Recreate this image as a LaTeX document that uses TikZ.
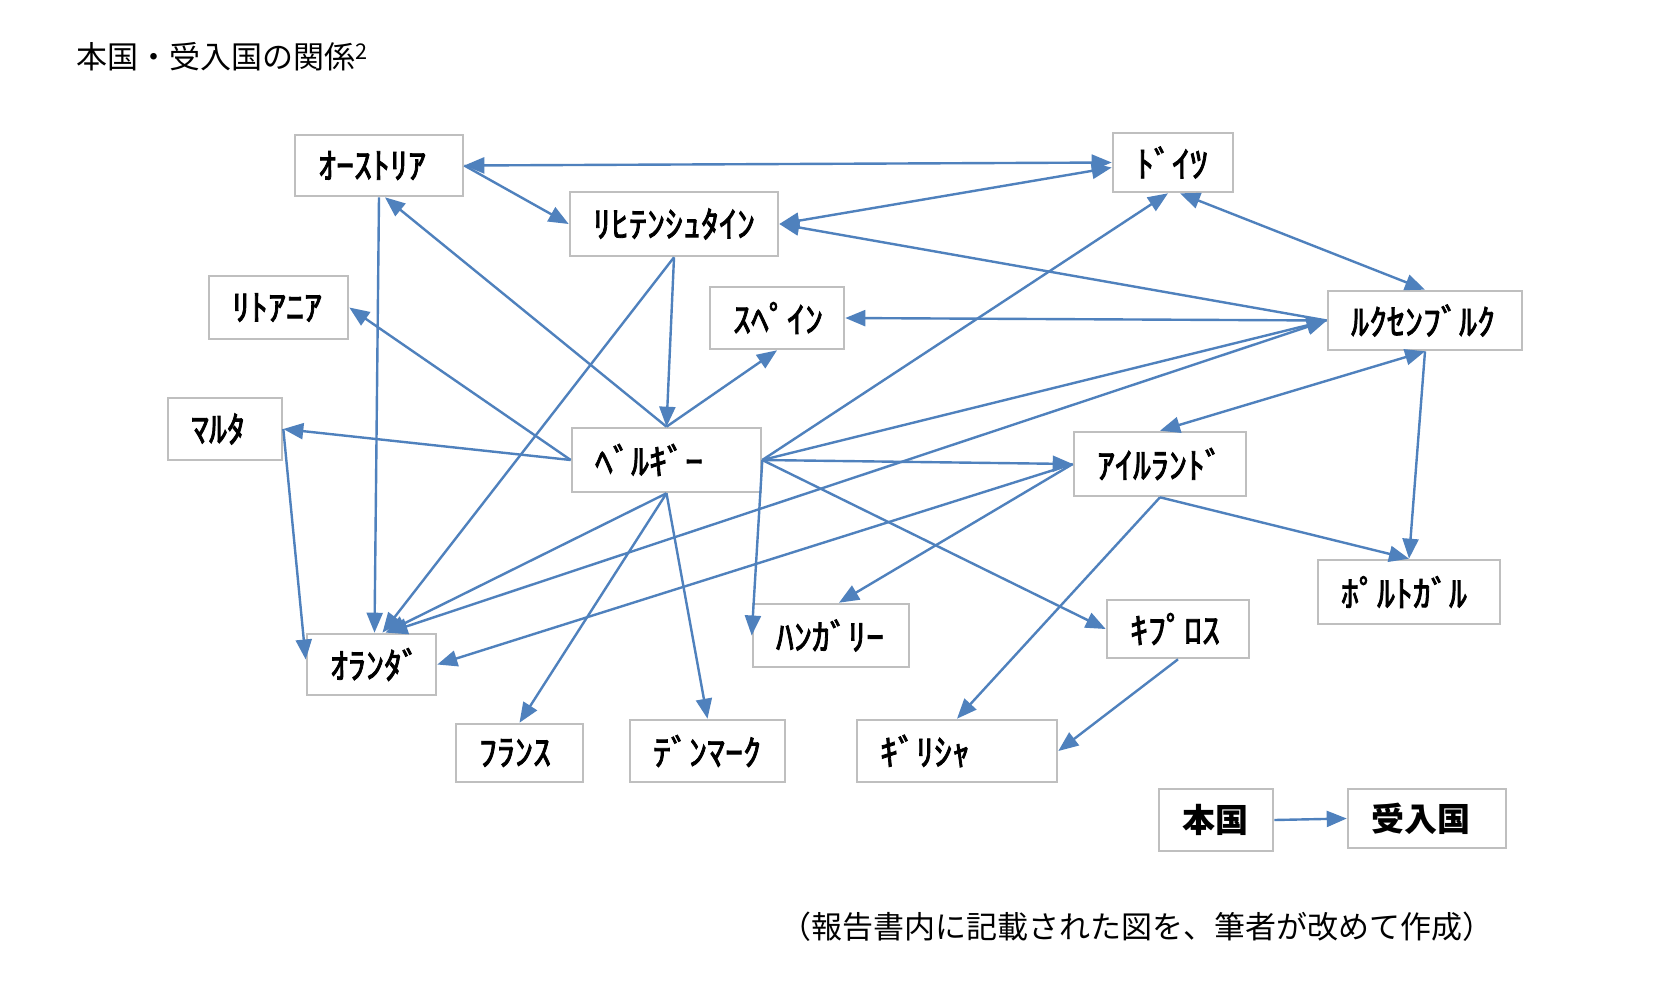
\documentclass[tikz,border=0pt]{standalone}
\usepackage{fontspec}
\usetikzlibrary{arrows.meta,calc}
\newfontfamily\jp{Noto Sans CJK JP}
\newfontfamily\jpfb{Noto Sans CJK JP}[FakeBold=2.2]
\definecolor{boxgray}{RGB}{191,191,191}
\definecolor{arrowblue}{RGB}{79,129,189}
\begin{document}
\begin{tikzpicture}[x=1pt,y=-1pt,
  box/.style={draw=boxgray, line width=2.6pt, fill=white, inner xsep=23pt, inner ysep=0pt,
    align=left, font=\jpfb\fontsize{36}{40}\selectfont},
  lbox/.style={box, font=\jp\bfseries\fontsize{33}{38}\selectfont},
  conn/.style={draw=arrowblue, line width=2.4pt, -{Triangle[length=20pt,width=16pt]}},
  dconn/.style={conn, {Triangle[length=20pt,width=16pt]}-{Triangle[length=20pt,width=16pt]}}
]
\useasboundingbox (0,0) rectangle (1667,994);
\fill[white] (0,0) rectangle (1667,994);

\node[anchor=west, inner sep=0pt, font=\jp\fontsize{31}{36}\selectfont] (title) at (76,57) {本国・受入国の関係\textsuperscript{2}};
\node[anchor=west, inner sep=0pt, font=\jp\fontsize{31}{36}\selectfont] (caption) at (780,927) {（報告書内に記載された図を、筆者が改めて作成）};

\node[box, text width=122pt, minimum height=61pt] (aut) at (379,165.5) {ｵｰｽﾄﾘｱ};
\node[box, text width=162pt, minimum height=64pt] (lie) at (674,224) {ﾘﾋﾃﾝｼｭﾀｲﾝ};
\node[box, text width=74pt, minimum height=59pt] (ger) at (1173,162.5) {ﾄﾞｲﾂ};
\node[box, text width=148pt, minimum height=59pt] (lux) at (1425,320.5) {ﾙｸｾﾝﾌﾞﾙｸ};
\node[box, text width=93pt, minimum height=63pt] (lit) at (278.5,307.5) {ﾘﾄｱﾆｱ};
\node[box, text width=88pt, minimum height=62pt] (spa) at (777,318) {ｽﾍﾟｲﾝ};
\node[box, text width=68pt, minimum height=62pt] (mal) at (225,429) {ﾏﾙﾀ};
\node[box, text width=143pt, minimum height=64pt] (bel) at (666.5,460) {ﾍﾞﾙｷﾞｰ};
\node[box, text width=126pt, minimum height=64pt] (ire) at (1160,464) {ｱｲﾙﾗﾝﾄﾞ};
\node[box, text width=136pt, minimum height=64pt] (por) at (1409,592) {ﾎﾟﾙﾄｶﾞﾙ};
\node[box, text width=110pt, minimum height=63pt] (hun) at (831,635.5) {ﾊﾝｶﾞﾘｰ};
\node[box, text width=96pt, minimum height=58pt] (cyp) at (1178,629) {ｷﾌﾟﾛｽ};
\node[box, text width=83pt, minimum height=61pt] (net) at (371.5,664.5) {ｵﾗﾝﾀﾞ};
\node[box, text width=81pt, minimum height=58pt] (fra) at (519.5,753) {ﾌﾗﾝｽ};
\node[box, text width=109pt, minimum height=62pt] (den) at (707.5,751) {ﾃﾞﾝﾏｰｸ};
\node[box, text width=154pt, minimum height=62pt] (gre) at (957,751) {ｷﾞﾘｼｬ};
\node[lbox, text width=68pt, minimum height=62pt] (home) at (1216,820) {本国};
\node[lbox, text width=112pt, minimum height=59pt] (host) at (1427,818.5) {受入国};

% connectors
\draw[dconn] (aut.east) -- (ger.west);
\draw[conn] (aut.east) -- (lie.west);
\draw[dconn] (lie.east) -- ($(ger.west)+(0,5)$);
\draw[conn] (lux.west) -- (lie.east);
\draw[dconn] ($(ger.south)+(7,0)$) -- (lux.north);
\draw[conn] (bel.east) -- ($(ger.south)+(-5,0)$);
\draw[conn] (lux.west) -- (spa.east);
\draw[conn] (bel.east) -- (lux.west);
\draw[dconn] ($(net.north)+(16,0)$) -- (lux.west);
\draw[conn] (aut.south) -- ($(net.north)+(3,0)$);
\draw[conn] (lie.south) -- ($(net.north)+(11,0)$);
\draw[conn] (lie.south) -- (bel.north);
\draw[conn] (bel.north) -- ($(aut.south)+(6,0)$);
\draw[conn] (bel.north) -- (spa.south);
\draw[conn] (bel.west) -- (lit.east);
\draw[conn] (bel.west) -- (mal.east);
\draw[conn] (mal.east) -- ($(net.west)+(0,-5)$);
\draw[conn] (bel.south) -- ($(net.north)+(14,0)$);
\draw[conn] (bel.south) -- (fra.north);
\draw[conn] (bel.south) -- (den.north);
\draw[conn] (bel.east) -- (hun.west);
\draw[conn] (bel.east) -- (ire.west);
\draw[conn] (bel.east) -- (cyp.west);
\draw[conn] (ire.west) -- (net.east);
\draw[conn] (ire.west) -- ($(hun.north)+(8,0)$);
\draw[dconn] (lux.south) -- (ire.north);
\draw[conn] (lux.south) -- (por.north);
\draw[conn] (ire.south) -- (por.north);
\draw[conn] (ire.south) -- (gre.north);
\draw[conn] (cyp.south) -- (gre.east);
\draw[conn] (home.east) -- (host.west);
\end{tikzpicture}
\end{document}
